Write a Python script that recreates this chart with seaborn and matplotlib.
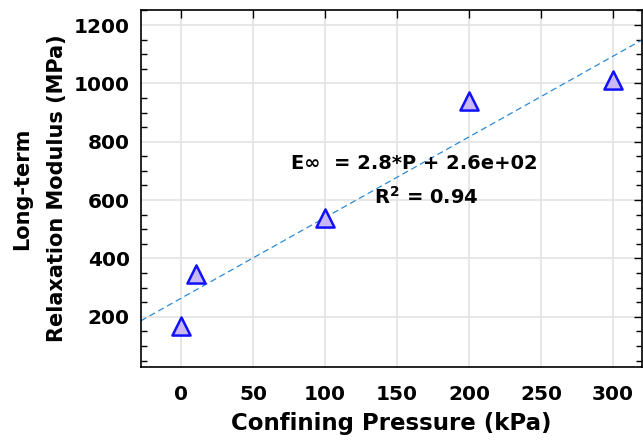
import numpy as np
import pandas as pd
import matplotlib
matplotlib.use("Agg")
import matplotlib.pyplot as plt
import seaborn as sns

pressure = [0, 10, 100, 200, 300]
modulus = [168, 348, 540, 938, 1010]
x_ticks = [0, 50, 100, 150, 200, 250, 300]
y_ticks = [200, 400, 600, 800, 1000, 1200]

sns.set_style("white")
plt.rcParams['font.family'] = ['DejaVu Sans']
plt.rcParams['font.weight'] = 'bold'
for k in ['text.color', 'axes.labelcolor', 'xtick.color', 'ytick.color']:
    plt.rcParams[k] = 'black'

df = pd.DataFrame({"P": pressure, "E": modulus})
slope, intercept = np.polyfit(df["P"], df["E"], 1)
r2 = np.corrcoef(df["P"], df["E"])[0, 1] ** 2

fig = plt.figure(figsize=(6.43, 4.4), dpi=100)
ax = fig.add_axes([0.219, 0.166, 0.779, 0.811])

xlim = (-28, 320)
ylim = (28, 1251)
fit_df = pd.DataFrame({"P": list(xlim)})
fit_df["E"] = slope * fit_df["P"] + intercept
sns.lineplot(data=fit_df, x="P", y="E", ax=ax, color="#2b8ad6", lw=0.9,
             linestyle=(0, (5, 3)), zorder=2)
sns.scatterplot(data=df, x="P", y="E", ax=ax, marker="^", s=170,
                color="#c9b8f5", edgecolor="#1010ff", linewidth=1.8, zorder=3)

ax.set_xlim(*xlim)
ax.set_ylim(*ylim)
ax.set_xticks(x_ticks)
ax.set_yticks(y_ticks)
ax.set_yticks(np.arange(50, 1251, 50), minor=True)
ax.grid(True, which="major", color="#e3e3e3", lw=1.2)
ax.set_axisbelow(True)
ax.tick_params(which="both", direction="in", top=True, right=True,
               labelsize=14.5, width=1, color="black")
ax.tick_params(which="major", length=6)
ax.tick_params(which="minor", length=4, left=True, right=True)
ax.tick_params(axis="x", pad=13)
ax.tick_params(axis="y", pad=8)
for lab in ax.get_xticklabels() + ax.get_yticklabels():
    lab.set_fontweight("bold")
for s in ax.spines.values():
    s.set_color("black")
    s.set_linewidth(1.2)

ax.set_xlabel("Confining Pressure (kPa)", fontsize=16.5, fontweight="bold", labelpad=6)
ax.set_ylabel("Long-term\nRelaxation Modulus (MPa)", fontsize=15, fontweight="bold",
              labelpad=5, linespacing=1.9)

ax.text(162, 727, f"E\u221e  = {slope:.1f}*P + {intercept:.1e}",
        ha="center", va="center", fontsize=14, fontweight="bold")
ax.text(170, 612, f"R$^\\mathbf{{2}}$ = {r2:.2f}", ha="center", va="center",
        fontsize=14, fontweight="bold")

fig.savefig("out.png", dpi=100)
